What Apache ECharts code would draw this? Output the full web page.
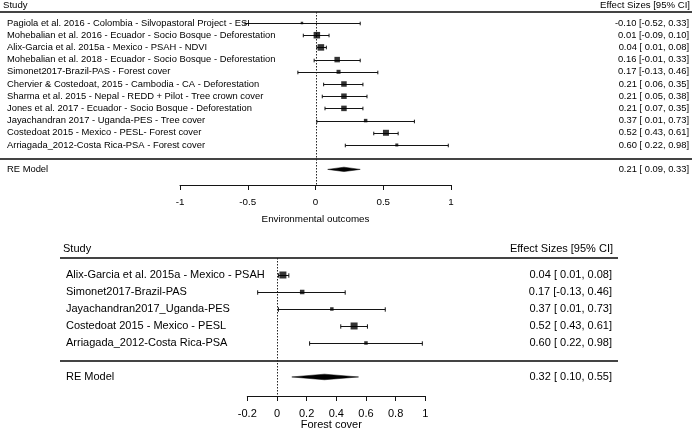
<!DOCTYPE html>
<html><head><meta charset="utf-8">
<script src="https://cdn.jsdelivr.net/npm/echarts@6/dist/echarts.min.js"></script>
<style>html,body{margin:0;padding:0;background:#fff}#c{width:692px;height:439px}</style>
</head><body><div id="c"></div>
<script>
// ---------- DATA ----------
const studiesEnv = [
  'Pagiola et al. 2016 - Colombia - Silvopastoral Project - ESI',
  'Mohebalian et al. 2016 - Ecuador - Socio Bosque - Deforestation',
  'Alix-Garcia et al. 2015a - Mexico - PSAH - NDVI',
  'Mohebalian et al. 2018 - Ecuador - Socio Bosque - Deforestation',
  'Simonet2017-Brazil-PAS - Forest cover',
  'Chervier & Costedoat, 2015 - Cambodia - CA - Deforestation',
  'Sharma et al. 2015 - Nepal - REDD + Pilot - Tree crown cover',
  'Jones et al. 2017 - Ecuador - Socio Bosque - Deforestation',
  'Jayachandran 2017 - Uganda-PES - Tree cover',
  'Costedoat 2015 - Mexico - PESL- Forest cover',
  'Arriagada_2012-Costa Rica-PSA - Forest cover'
];
const estEnv  = [-0.10, 0.01, 0.04, 0.16, 0.17, 0.21, 0.21, 0.21, 0.37, 0.52, 0.60];
const lowEnv  = [-0.52, -0.09, 0.01, -0.01, -0.13, 0.06, 0.05, 0.07, 0.01, 0.43, 0.22];
const highEnv = [0.33, 0.10, 0.08, 0.33, 0.46, 0.35, 0.38, 0.35, 0.73, 0.61, 0.98];
const reEnv   = [0.21, 0.09, 0.33]; // estimate, lower, upper
const ticksEnv = ['-1', '-0.5', '0', '0.5', '1'];
const titleEnv = 'Environmental outcomes';

const studiesFor = [
  'Alix-Garcia et al. 2015a - Mexico - PSAH',
  'Simonet2017-Brazil-PAS',
  'Jayachandran2017_Uganda-PES',
  'Costedoat 2015 - Mexico - PESL',
  'Arriagada_2012-Costa Rica-PSA'
];
const estFor  = [0.04, 0.17, 0.37, 0.52, 0.60];
const lowFor  = [0.01, -0.13, 0.01, 0.43, 0.22];
const highFor = [0.08, 0.46, 0.73, 0.61, 0.98];
const reFor   = [0.32, 0.10, 0.55];
const ticksFor = ['-0.2', '0', '0.2', '0.4', '0.6', '0.8', '1'];
const titleFor = 'Forest cover';

// ---------- STYLE ----------
const FONT_FAMILY = '"Liberation Sans", Arial, sans-serif';
const TXT = '#000';
const LINE = '#141414';
const SEP = '#444';
const sizeEnv = [2.5, 6.5, 6.5, 5.5, 4, 5.5, 5.5, 5.5, 3.5, 6, 3];
const sizeFor = [7, 4.5, 3.5, 7, 3.5];

function colFmt(arr) {
  const neg = arr.some(v => v < 0);
  return arr.map(v => ((v < 0 || !neg) ? '' : ' ') + v.toFixed(2));
}
function effectTexts(est, lo, hi, re) {
  const e = colFmt(est.concat([re[0]]));
  const l = colFmt(lo.concat([re[1]]));
  const h = colFmt(hi.concat([re[2]]));
  return e.map((v, i) => v + ' [' + l[i] + ', ' + h[i] + ']');
}
const effEnv = effectTexts(estEnv, lowEnv, highEnv, reEnv);
const effFor = effectTexts(estFor, lowFor, highFor, reFor);

function txt(text, x, y, size, align) {
  return {
    type: 'text', x: x, y: y,
    style: { text: text, font: size + 'px ' + FONT_FAMILY, fill: TXT,
      align: align, textAlign: align, verticalAlign: 'middle', textVerticalAlign: 'middle' }
  };
}

// panel config
const panels = [
  { studies: studiesEnv, est: estEnv, lo: lowEnv, hi: highEnv, re: reEnv, eff: effEnv, sizes: sizeEnv,
    labelX: 7, effX: 689, fs: 9.4, cap: 1.8, dia: 2.2, reRow: 12, refTop: -0.9, yMax: 13.28 },
  { studies: studiesFor, est: estFor, lo: lowFor, hi: highFor, re: reFor, eff: effFor, sizes: sizeFor,
    labelX: 66, effX: 612, fs: 11, cap: 2.2, dia: 2.8, reRow: 6, refTop: -1, yMax: 7.12 }
];

const series = [];
panels.forEach((p, g) => {
  // reference line at 0
  series.push({
    type: 'custom', xAxisIndex: g, yAxisIndex: g, silent: true, z: 1,
    data: [[0]],
    renderItem: function (params, api) {
      const a = api.coord([0, p.refTop]);
      const b = api.coord([0, p.yMax]);
      const x = Math.round(a[0]) + 0.5;
      return { type: 'line', shape: { x1: x, y1: a[1], x2: x, y2: b[1] },
        style: { stroke: '#222', lineWidth: 1, lineDash: [1.5, 1.5] } };
    }
  });
  // CI lines + labels
  series.push({
    type: 'custom', xAxisIndex: g, yAxisIndex: g, silent: true, z: 3,
    data: p.studies.map((s, i) => [i, p.lo[i], p.hi[i]]),
    renderItem: function (params, api) {
      const i = api.value(0);
      const a = api.coord([api.value(1), i]);
      const b = api.coord([api.value(2), i]);
      const y = Math.round(a[1]) + 0.5;
      const st = { stroke: LINE, lineWidth: 1 };
      return { type: 'group', children: [
        { type: 'line', shape: { x1: a[0], y1: y, x2: b[0], y2: y }, style: st },
        { type: 'line', shape: { x1: a[0], y1: y - p.cap, x2: a[0], y2: y + p.cap }, style: st },
        { type: 'line', shape: { x1: b[0], y1: y - p.cap, x2: b[0], y2: y + p.cap }, style: st },
        txt(p.studies[i], p.labelX, a[1], p.fs, 'left'),
        txt(p.eff[i], p.effX, a[1], p.fs, 'right')
      ] };
    }
  });
  // point estimates
  series.push({
    type: 'scatter', xAxisIndex: g, yAxisIndex: g, silent: true, z: 4,
    symbol: 'rect',
    symbolSize: function (v, params) { return p.sizes[params.dataIndex]; },
    itemStyle: { color: '#000' },
    data: p.est.map((v, i) => [v, i])
  });
  // summary diamond
  series.push({
    type: 'custom', xAxisIndex: g, yAxisIndex: g, silent: true, z: 4,
    data: [[p.re[0], p.re[1], p.re[2], p.reRow]],
    renderItem: function (params, api) {
      const r = api.value(3);
      const c = api.coord([api.value(0), r]);
      const l = api.coord([api.value(1), r]);
      const h = api.coord([api.value(2), r]);
      return { type: 'group', children: [
        { type: 'polygon', shape: { points: [[l[0], c[1]], [c[0], c[1] - p.dia], [h[0], c[1]], [c[0], c[1] + p.dia]] },
          style: { fill: '#000', stroke: '#000', lineWidth: 0.5 } },
        txt('RE Model', p.labelX, c[1], p.fs, 'left'),
        txt(p.eff[p.eff.length - 1], p.effX, c[1], p.fs, 'right')
      ] };
    }
  });
});

function xAxisCfg(g, min, max, interval, ticks, name, fs, margin, gap, namePad) {
  return {
    gridIndex: g, type: 'value', min: min, max: max, interval: interval,
    axisLine: { show: true, onZero: false, lineStyle: { color: LINE, width: 1 } },
    axisTick: { show: true, length: 5, lineStyle: { color: LINE, width: 1 } },
    splitLine: { show: false },
    axisLabel: { color: TXT, fontSize: fs, fontFamily: FONT_FAMILY, margin: margin,
      formatter: function (v) { const k = Math.round((v - min) / interval); return ticks[k] !== undefined ? ticks[k] : ''; } },
    name: name, nameLocation: 'middle', nameGap: gap,
    nameTextStyle: { color: TXT, fontSize: fs, fontFamily: FONT_FAMILY, padding: namePad }
  };
}

const option = {
  animation: false,
  backgroundColor: '#fff',
  grid: [
    { left: 180, width: 271, top: 10.8, height: 174.2, containLabel: false, outerBoundsMode: 'none' },
    { left: 247.3, width: 178, top: 258, height: 138, containLabel: false, outerBoundsMode: 'none' }
  ],
  xAxis: [
    xAxisCfg(0, -1, 1, 0.5, ticksEnv, titleEnv, 9.8, 12, 29, [0, 0, 0, 0]),
    xAxisCfg(1, -0.2, 1, 0.2, ticksFor, titleFor, 11, 12, 23, [0, 10, 0, 0])
  ],
  yAxis: [
    { gridIndex: 0, type: 'value', inverse: true, min: -1, max: 13.28, show: false },
    { gridIndex: 1, type: 'value', inverse: true, min: -1, max: 7.12, show: false }
  ],
  graphic: [
    txt('Study', 3, 5, 9.6, 'left'),
    txt('Effect Sizes [95% CI]', 690, 5, 9.6, 'right'),
    { type: 'line', shape: { x1: 0, y1: 12, x2: 692, y2: 12 }, style: { stroke: SEP, lineWidth: 2 } },
    { type: 'line', shape: { x1: 0, y1: 159, x2: 692, y2: 159 }, style: { stroke: SEP, lineWidth: 2 } },
    txt('Study', 63, 249, 11, 'left'),
    txt('Effect Sizes [95% CI]', 613, 249, 11, 'right'),
    { type: 'line', shape: { x1: 60, y1: 258, x2: 618, y2: 258 }, style: { stroke: SEP, lineWidth: 2 } },
    { type: 'line', shape: { x1: 60, y1: 361, x2: 618, y2: 361 }, style: { stroke: SEP, lineWidth: 2 } }
  ],
  series: series
};

const chart = echarts.init(document.getElementById('c'), null, { renderer: 'canvas' });
chart.setOption(option);
</script>
</body></html>
